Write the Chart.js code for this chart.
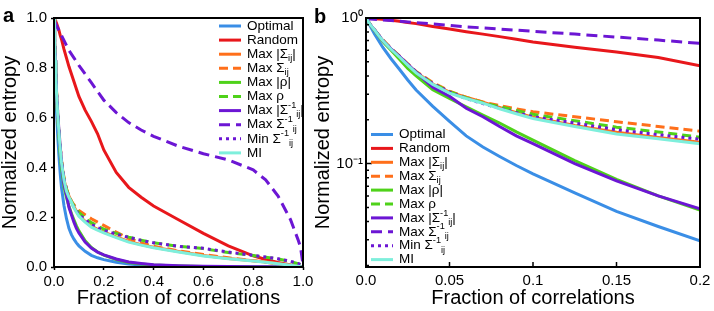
<!DOCTYPE html>
<html>
<head>
<meta charset="utf-8">
<script src="https://cdn.jsdelivr.net/npm/chart.js@4.4.1/dist/chart.umd.min.js"></script>
<style>
  html, body { margin: 0; padding: 0; background: #fff; }
  #wrap { position: relative; width: 714px; height: 311px; overflow: hidden; }
  canvas { position: absolute; top: 0; }
  #chartA { left: 0; }
  #chartB { left: 300px; }
  .panel { position: absolute; font: bold 20px/20px "Liberation Sans", Arial, sans-serif; }
</style>
</head>
<body>
<div id="wrap">
  <canvas id="chartA" width="330" height="311"></canvas>
  <canvas id="chartB" width="414" height="311"></canvas>
  <div class="panel" style="left:3px; top:5px">a</div>
  <div class="panel" style="left:314px; top:6px">b</div>
</div>
<script>
// fraction of correlations (shared by both panels, panel b only shows x <= 0.2)
const xs = [0, 0.0025, 0.005, 0.0075, 0.01, 0.015, 0.02, 0.025, 0.03, 0.04, 0.05, 0.06, 0.07, 0.08, 0.09, 0.1,
            0.125, 0.15, 0.175, 0.2, 0.25, 0.3, 0.35, 0.4, 0.5, 0.6, 0.7, 0.8, 0.85, 0.9, 0.95, 0.98, 0.99, 1];

const optimal = [1, 0.88, 0.78, 0.70, 0.63, 0.525, 0.445, 0.375, 0.32, 0.247, 0.195, 0.155, 0.13, 0.112, 0.097, 0.085,
                 0.063, 0.047, 0.037, 0.0295, 0.019, 0.012, 0.008, 0.005, 0.002, 0.001, 0.0005, 0.0002, 0.0001, 0.0001, 0, 0, 0, 0];
const random = [1, 0.995, 0.99, 0.985, 0.98, 0.965, 0.95, 0.93, 0.915, 0.875, 0.84, 0.805, 0.775, 0.745, 0.715, 0.685,
                0.63, 0.585, 0.535, 0.47, 0.38, 0.32, 0.28, 0.245, 0.19, 0.135, 0.085, 0.045, 0.03, 0.018, 0.008, 0.003, 0.001, 0];
const maxAbsSigma = [1, 0.9, 0.83, 0.76, 0.70, 0.61, 0.54, 0.478, 0.424, 0.352, 0.31, 0.286, 0.264, 0.243, 0.224, 0.208,
                     0.183, 0.164, 0.151, 0.14, 0.121, 0.103, 0.09, 0.079, 0.062, 0.046, 0.034, 0.025, 0.02, 0.014, 0.007, 0.003, 0.001, 0];
const maxSigma = [1, 0.9, 0.83, 0.765, 0.71, 0.62, 0.55, 0.485, 0.43, 0.36, 0.315, 0.285, 0.265, 0.25, 0.238, 0.227,
                  0.21, 0.194, 0.18, 0.167, 0.14, 0.115, 0.097, 0.083, 0.065, 0.05, 0.037, 0.025, 0.019, 0.012, 0.006, 0.003, 0.001, 0];
const maxAbsRho = [1, 0.9, 0.82, 0.755, 0.69, 0.6, 0.52, 0.45, 0.40, 0.322, 0.28, 0.245, 0.215, 0.19, 0.165, 0.145,
                   0.105, 0.078, 0.06, 0.048, 0.03, 0.018, 0.012, 0.008, 0.004, 0.002, 0.001, 0.0005, 0.0003, 0.0002, 0.0001, 0, 0, 0];
const maxRho = [1, 0.9, 0.83, 0.765, 0.705, 0.615, 0.545, 0.48, 0.425, 0.355, 0.312, 0.283, 0.262, 0.246, 0.232, 0.218,
                0.197, 0.178, 0.165, 0.152, 0.135, 0.12, 0.108, 0.097, 0.083, 0.074, 0.058, 0.046, 0.039, 0.032, 0.022, 0.013, 0.009, 0.004];
const maxAbsInvSigma = [1, 0.9, 0.83, 0.765, 0.70, 0.615, 0.545, 0.48, 0.425, 0.335, 0.29, 0.24, 0.21, 0.18, 0.155, 0.137,
                        0.1, 0.076, 0.06, 0.049, 0.032, 0.02, 0.014, 0.009, 0.005, 0.003, 0.002, 0.001, 0.0008, 0.0005, 0.0003, 0.0001, 0, 0];
const maxInvSigma = [0.99, 0.985, 0.98, 0.975, 0.97, 0.96, 0.95, 0.94, 0.93, 0.91, 0.89, 0.87, 0.855, 0.84, 0.825, 0.81,
                     0.775, 0.74, 0.705, 0.67, 0.62, 0.58, 0.55, 0.525, 0.485, 0.455, 0.43, 0.39, 0.35, 0.285, 0.19, 0.11, 0.08, 0.01];
const minInvSigma = [1, 0.9, 0.83, 0.765, 0.705, 0.615, 0.545, 0.48, 0.425, 0.355, 0.31, 0.28, 0.258, 0.24, 0.224, 0.21,
                     0.19, 0.171, 0.158, 0.147, 0.132, 0.119, 0.107, 0.097, 0.083, 0.075, 0.06, 0.047, 0.04, 0.033, 0.023, 0.014, 0.01, 0.005];
const mi = [1, 0.9, 0.83, 0.76, 0.70, 0.61, 0.54, 0.475, 0.42, 0.35, 0.305, 0.28, 0.26, 0.238, 0.22, 0.204,
            0.18, 0.16, 0.148, 0.137, 0.118, 0.10, 0.088, 0.077, 0.06, 0.044, 0.033, 0.024, 0.019, 0.013, 0.007, 0.003, 0.001, 0];

const seriesNames = ["Optimal", "Random", "Max |Σij|", "Max Σij", "Max |ρ|", "Max ρ",
                     "Max |Σ-1ij|", "Max Σ-1ij", "Min Σ-1ij", "MI"];
const seriesValues = [optimal, random, maxAbsSigma, maxSigma, maxAbsRho, maxRho,
                      maxAbsInvSigma, maxInvSigma, minInvSigma, mi];

// legend text with sub/superscripts
const legendLabels = [
    ["Optimal"],
    ["Random"],
    ["Max |Σ", {sub: "ij"}, "|"],
    ["Max Σ", {sub: "ij"}],
    ["Max |ρ|"],
    ["Max ρ"],
    ["Max |Σ", {sup: "-1"}, {sub: "ij"}, "|"],
    ["Max Σ", {sup: "-1"}, {sub: "ij"}],
    ["Min Σ", {sup: "-1"}, {sub: "ij"}],
    ["MI"]
];

const xTicksA = [0, 0.2, 0.4, 0.6, 0.8, 1];
const xTickLabelsA = ["0.0", "0.2", "0.4", "0.6", "0.8", "1.0"];
const yTicksA = [0, 0.2, 0.4, 0.6, 0.8, 1];
const yTickLabelsA = ["0.0", "0.2", "0.4", "0.6", "0.8", "1.0"];

const xTicksB = [0, 0.05, 0.1, 0.15, 0.2];
const xTickLabelsB = ["0.0", "0.05", "0.1", "0.15", "0.2"];
const yTicksB = [0.02, 0.03, 0.04, 0.05, 0.06, 0.07, 0.08, 0.09, 0.1, 0.2, 0.3, 0.4, 0.5, 0.6, 0.7, 0.8, 0.9, 1];
const yMajorB = [0.1, 1];
const yMajorLabelsB = ["10⁻¹", "10⁰"];

const BLUE = "#3a8ee6";
const RED = "#e8171b";
const ORANGE = "#ff6f1a";
const GREEN = "#4fd21a";
const PURPLE = "#6c16d4";
const CYAN = "#7eefdc";

const seriesColors = [BLUE, RED, ORANGE, ORANGE, GREEN, GREEN, PURPLE, PURPLE, PURPLE, CYAN];
const seriesDashes = [[], [], [], [9, 5], [], [9, 5], [], [11, 6], [3, 4], []];

const FONT = '"Liberation Sans", Arial, Helvetica, sans-serif';
Chart.defaults.font.family = FONT;
Chart.defaults.color = "#000";

function buildDatasets(maxX) {
    return seriesValues.map((vals, i) => ({
        label: seriesNames[i],
        data: xs.map((x, k) => ({x: x, y: vals[k]})).filter(p => p.x <= maxX),
        borderColor: seriesColors[i],
        borderWidth: 3,
        borderDash: seriesDashes[i],
        borderCapStyle: "butt",
        pointRadius: 0,
        fill: false,
        order: seriesValues.length - i
    }));
}

function drawRich(ctx, segs, x, y, size) {
    for (const s of segs) {
        let text = s, dy = 0, fs = size;
        if (typeof s !== "string") {
            text = s.sup || s.sub;
            fs = size * 0.68;
            dy = s.sup ? -size * 0.36 : size * 0.32;
        }
        ctx.font = fs + "px " + FONT;
        ctx.fillText(text, x, y + dy);
        x += ctx.measureText(text).width;
    }
}

// legend drawn inside the plot area
const inLegend = {
    id: "inLegend",
    afterDraw(chart, args, opts) {
        const ctx = chart.ctx;
        const area = chart.chartArea;
        ctx.save();
        ctx.textBaseline = "middle";
        ctx.fillStyle = "#000";
        chart.data.datasets.forEach((ds, i) => {
            const y = area.top + opts.top + i * opts.step;
            const x = area.left + opts.left;
            ctx.beginPath();
            ctx.strokeStyle = ds.borderColor;
            ctx.lineWidth = 3;
            ctx.setLineDash(ds.borderDash);
            ctx.moveTo(x, y);
            ctx.lineTo(x + 22, y);
            ctx.stroke();
            ctx.setLineDash([]);
            drawRich(ctx, legendLabels[i], x + 28, y, 13.5);
        });
        ctx.restore();
    }
};

// box around the plot, plus inward ticks for panel b
const frame = {
    id: "frame",
    afterDatasetsDraw(chart, args, opts) {
        const ctx = chart.ctx;
        const a = chart.chartArea;
        ctx.save();
        ctx.strokeStyle = "#000";
        if (opts.inward) {
            ctx.lineWidth = 1.5;
            ctx.beginPath();
            chart.scales.x.ticks.forEach(t => {
                const px = chart.scales.x.getPixelForValue(t.value);
                ctx.moveTo(px, a.bottom);
                ctx.lineTo(px, a.bottom - 5);
            });
            chart.scales.y.ticks.forEach(t => {
                const py = chart.scales.y.getPixelForValue(t.value);
                const len = yMajorB.includes(t.value) ? 6 : 3;
                ctx.moveTo(a.left, py);
                ctx.lineTo(a.left + len, py);
            });
            ctx.stroke();
        }
        ctx.lineWidth = 2;
        ctx.strokeRect(a.left, a.top, a.right - a.left, a.bottom - a.top);
        ctx.restore();
    }
};

const titleFont = {size: 20, lineHeight: 1.06};
const tickFont = {size: 15};

new Chart(document.getElementById("chartA"), {
    type: "line",
    data: {datasets: buildDatasets(1)},
    options: {
        responsive: false,
        animation: false,
        devicePixelRatio: 1,
        layout: {padding: {left: 0, top: 18, right: 27, bottom: 0}},
        plugins: {
            legend: {display: false},
            tooltip: {enabled: false},
            inLegend: {left: 165, top: 8, step: 14.1},
            frame: {inward: false}
        },
        scales: {
            x: {
                type: "linear", min: 0, max: 1,
                afterBuildTicks: s => { s.ticks = xTicksA.map(v => ({value: v})); },
                afterFit: s => { s.height = 44; s.paddingLeft = 0; s.paddingRight = 0; },
                ticks: {callback: (v, i) => xTickLabelsA[i], font: tickFont, padding: 3, maxRotation: 0, autoSkip: false},
                grid: {drawOnChartArea: false, tickLength: 3, tickWidth: 1.5, tickColor: "#000"},
                border: {display: false},
                title: {display: true, text: "Fraction of correlations", font: titleFont, padding: {top: 0, bottom: 2}}
            },
            y: {
                type: "linear", min: 0, max: 1,
                afterBuildTicks: s => { s.ticks = yTicksA.map(v => ({value: v})); },
                afterFit: s => { s.width = 54; s.paddingTop = 0; s.paddingBottom = 0; },
                ticks: {callback: (v, i) => yTickLabelsA[i], font: tickFont, padding: 4, autoSkip: false},
                grid: {drawOnChartArea: false, tickLength: 3, tickWidth: 1.5, tickColor: "#000"},
                border: {display: false},
                title: {display: true, text: "Normalized entropy", font: titleFont, padding: 0}
            }
        }
    },
    plugins: [frame, inLegend]
});

new Chart(document.getElementById("chartB"), {
    type: "line",
    data: {datasets: buildDatasets(0.2)},
    options: {
        responsive: false,
        animation: false,
        devicePixelRatio: 1,
        layout: {padding: {left: 0, top: 18, right: 14, bottom: 0}},
        plugins: {
            legend: {display: false},
            tooltip: {enabled: false},
            inLegend: {left: 5, top: 116.5, step: 13.9},
            frame: {inward: true}
        },
        scales: {
            x: {
                type: "linear", min: 0, max: 0.2,
                afterBuildTicks: s => { s.ticks = xTicksB.map(v => ({value: v})); },
                afterFit: s => { s.height = 44; s.paddingLeft = 0; s.paddingRight = 0; },
                ticks: {callback: (v, i) => xTickLabelsB[i], font: tickFont, padding: 5, maxRotation: 0, autoSkip: false},
                grid: {display: false, drawTicks: false},
                border: {display: false},
                title: {display: true, text: "Fraction of correlations", font: titleFont, padding: {top: 0, bottom: 2}}
            },
            y: {
                type: "logarithmic", min: 0.0195, max: 1,
                afterBuildTicks: s => { s.ticks = yTicksB.map(v => ({value: v})); },
                afterFit: s => { s.width = 66; s.paddingTop = 0; s.paddingBottom = 0; },
                ticks: {
                    callback: v => {
                        const k = yMajorB.indexOf(v);
                        return k >= 0 ? yMajorLabelsB[k] : "";
                    },
                    font: tickFont, padding: 3, autoSkip: false
                },
                grid: {display: false, drawTicks: false},
                border: {display: false},
                title: {display: true, text: "Normalized entropy", font: titleFont, padding: {top: 12.4, bottom: 0}}
            }
        }
    },
    plugins: [frame, inLegend]
});
</script>
</body>
</html>
